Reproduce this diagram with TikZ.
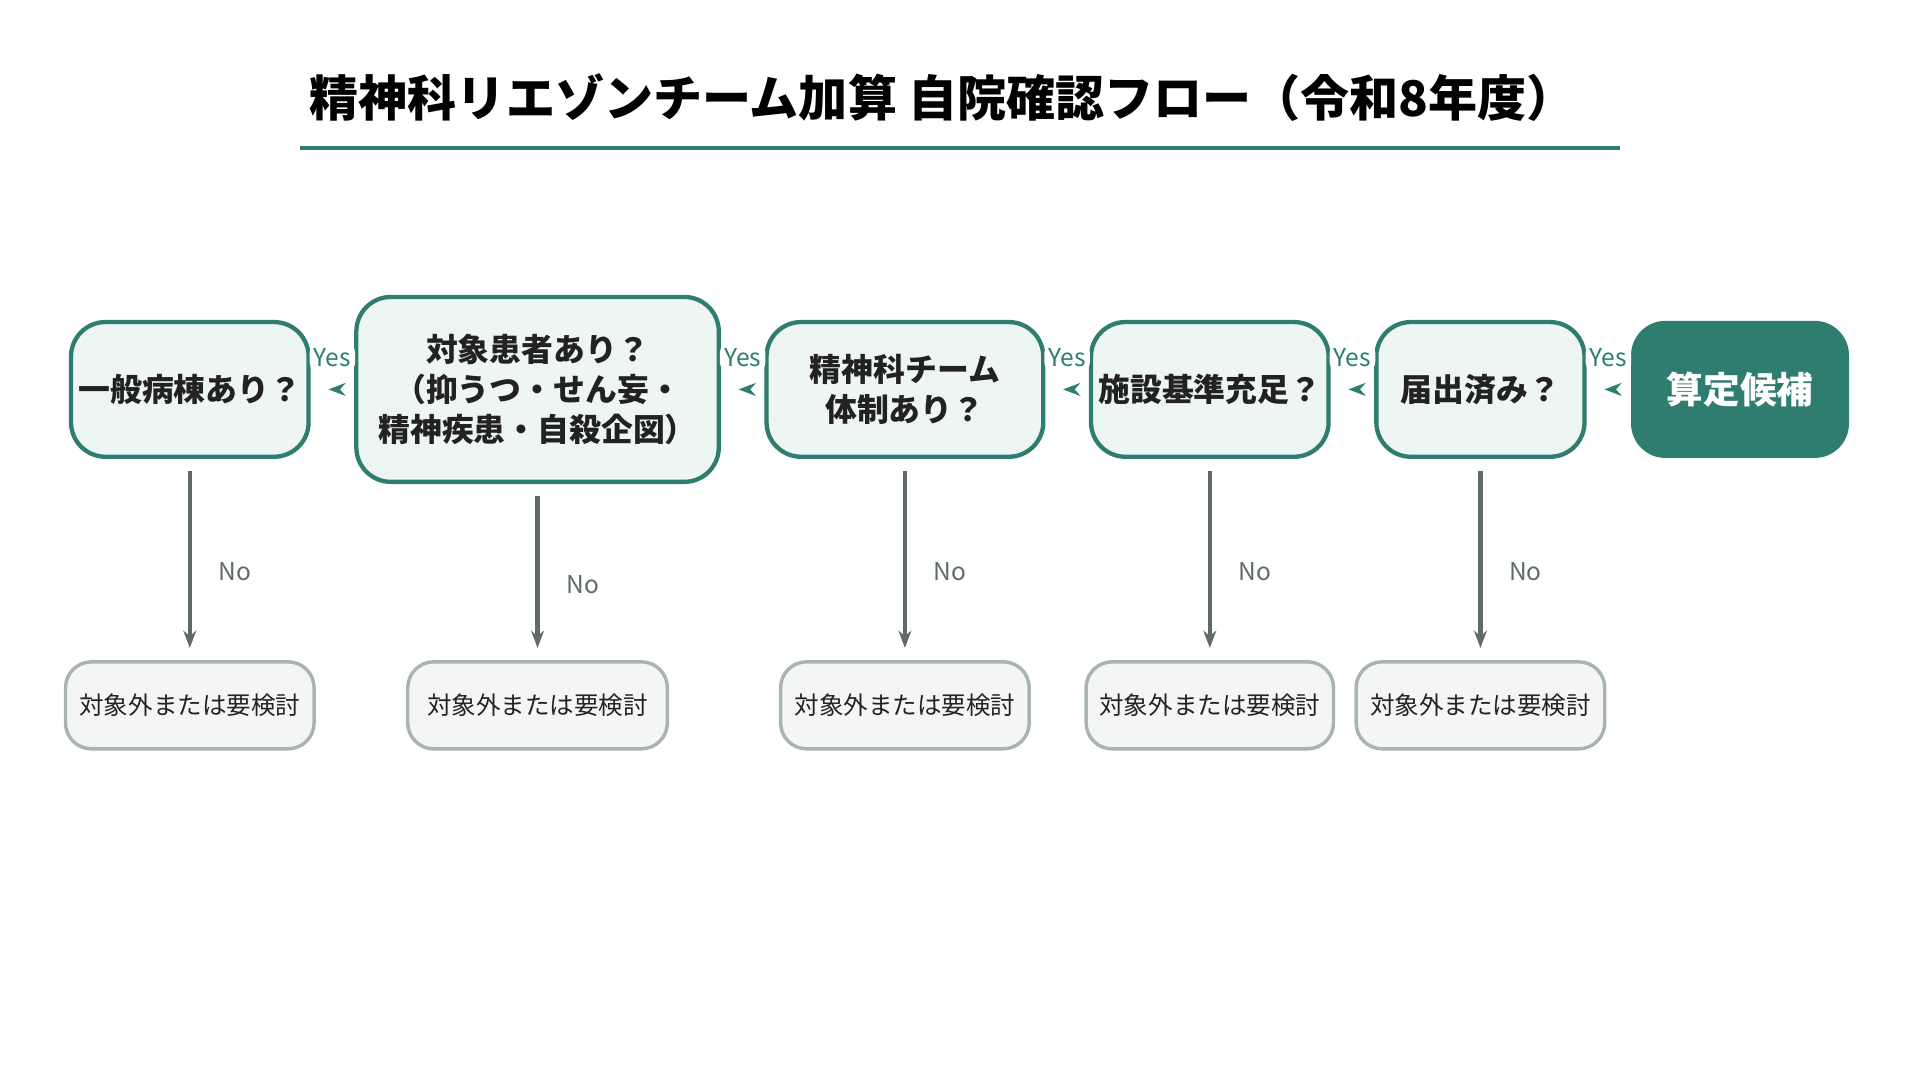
\documentclass[tikz,border=0pt]{standalone}
\usepackage{fontspec}
\setmainfont{Noto Sans CJK JP}
\usetikzlibrary{arrows.meta}
\definecolor{teal}{HTML}{2E7D6E}
\definecolor{tealbg}{HTML}{EEF6F3}
\definecolor{grayline}{HTML}{5F6B68}
\definecolor{graybg}{HTML}{F4F6F5}
\definecolor{grayedge}{HTML}{A9B3B0}
\definecolor{ink}{HTML}{222222}

\begin{document}
\begin{tikzpicture}[x=1cm,y=-1cm,
  check/.style={rectangle,rounded corners=8pt,draw=teal,fill=tealbg,line width=1pt,text=ink,align=center,font=\fontsize{7.4}{9.4}\selectfont\bfseries,inner sep=0pt},
  goal/.style={rectangle,rounded corners=8pt,fill=teal,text=white,font=\fontsize{8.5}{10}\selectfont\bfseries,inner sep=0pt,minimum width=1.78cm,minimum height=1.12cm},
  stop/.style={rectangle,rounded corners=6pt,draw=grayedge,fill=graybg,line width=0.8pt,text=ink,font=\fontsize{5.7}{7}\selectfont,inner sep=0pt,minimum height=0.71cm},
  yes/.style={-{Stealth[length=4pt]},draw=teal,line width=1.2pt},
  no/.style={-{Stealth[length=4pt]},draw=grayline,line width=1pt},
  yeslabel/.style={fill=white,text=teal,rounded corners=2pt,inner sep=1pt,font=\fontsize{5.7}{7}\selectfont},
  nolabel/.style={text=grayline,font=\fontsize{5.7}{7}\selectfont,anchor=west}]
\useasboundingbox (0,0) rectangle (15.68,8.82);

% title
\node (title) at (7.7,0.8) {\fontsize{11.4}{13}\selectfont\bfseries 精神科リエゾンチーム加算 自院確認フロー（令和8年度）};
\draw[teal,line width=1pt] (2.45,1.21) -- (13.23,1.21);

% checks
\node[check,minimum width=1.94cm,minimum height=1.10cm] (c1) at (1.55,3.18) {一般病棟あり？};
\node[check,minimum width=2.96cm,minimum height=1.51cm] (c2) at (4.39,3.18) {対象患者あり？\\（抑うつ・せん妄・\\精神疾患・自殺企図）};
\node[check,minimum width=2.26cm,minimum height=1.10cm] (c3) at (7.39,3.18) {精神科チーム\\体制あり？};
\node[check,minimum width=1.94cm,minimum height=1.10cm] (c4) at (9.88,3.18) {施設基準充足？};
\node[check,minimum width=1.70cm,minimum height=1.10cm] (c5) at (12.09,3.18) {届出済み？};
\node[goal] (ok) at (14.21,3.18) {算定候補};

% yes arrows
\foreach \a/\b in {c1/c2,c2/c3,c3/c4,c4/c5,c5/ok}{
  \draw[yes] ([xshift=6pt]\a.east) -- ([xshift=-6pt]\b.west);
  \path (\a.east) -- (\b.west) node[midway,yshift=0.26cm,yeslabel] {Yes};
}

% stops
\node[stop,minimum width=2.03cm] (s1) at (1.55,5.76) {対象外または要検討};
\node[stop,minimum width=2.12cm] (s2) at (4.39,5.76) {対象外または要検討};
\node[stop,minimum width=2.03cm] (s3) at (7.39,5.76) {対象外または要検討};
\node[stop,minimum width=2.02cm] (s4) at (9.88,5.76) {対象外または要検討};
\node[stop,minimum width=2.03cm] (s5) at (12.09,5.76) {対象外または要検討};

% no arrows
\foreach \n in {1,...,5}{
  \draw[no] ([yshift=-0.1cm]c\n.south) -- ([yshift=0.1cm]s\n.north)
    node[midway,nolabel,xshift=0.1cm,yshift=-0.1cm] {No};
}
\end{tikzpicture}
\end{document}
